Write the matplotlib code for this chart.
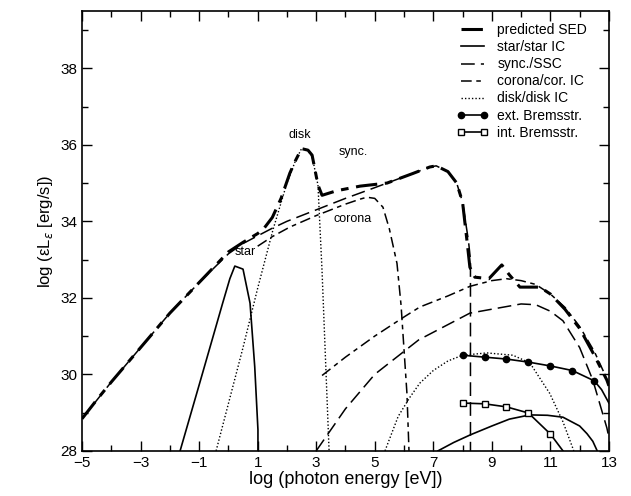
import matplotlib
matplotlib.use("Agg")
import matplotlib.pyplot as plt
from matplotlib.lines import Line2D
from matplotlib.ticker import MultipleLocator

plt.rcParams['font.family'] = ['Liberation Sans', 'DejaVu Sans']

# predicted SED (sum)
sed_x = [-5, -4.5, -4, -3, -2, -1, 0, 0.5, 1.0, 1.2, 1.5, 1.8, 2.1, 2.3, 2.5, 2.72, 2.86, 3.06, 3.2,
         3.7, 4.5, 5.42, 6.3, 6.88, 7.1, 7.5, 7.8, 8.0, 8.15, 8.25, 8.42, 8.9, 9.34, 9.6, 9.96, 10.64,
         11.0, 11.5, 12.0, 12.5, 12.93, 13.0]
sed_y = [28.84, 29.33, 29.8, 30.7, 31.6, 32.4, 33.2, 33.45, 33.68, 33.8, 34.1, 34.6, 35.26, 35.6, 35.9,
         35.86, 35.73, 34.95, 34.68, 34.8, 34.92, 35.0, 35.25, 35.42, 35.45, 35.3, 35.0, 34.5, 33.5,
         32.8, 32.54, 32.5, 32.86, 32.6, 32.28, 32.28, 32.1, 31.7, 31.2, 30.5, 29.85, 29.7]

# star + star IC
star_x = [-1.65, -1.0, -0.5, -0.2, 0.05, 0.22, 0.5, 0.74, 0.9, 1.01, 1.01]
star_y = [28.0, 29.72, 31.05, 31.85, 32.5, 32.83, 32.75, 31.86, 30.2, 28.55, 28.0]
starIC_x = [7.16, 7.7, 8.27, 9.0, 9.6, 10.3, 10.9, 11.43, 12.0, 12.25, 12.45, 12.6]
starIC_y = [28.0, 28.22, 28.42, 28.65, 28.83, 28.94, 28.93, 28.88, 28.65, 28.45, 28.25, 28.0]

# synchrotron + SSC
sync_x = [-5, -4, -3, -2, -1, 0, 0.5, 1.0, 1.5, 2, 3, 4, 5, 5.42, 6.3, 6.88, 7.1, 7.5, 7.8, 8.0,
          8.2, 8.27, 8.27]
sync_y = [28.84, 29.8, 30.7, 31.6, 32.4, 33.15, 33.42, 33.62, 33.82, 34.0, 34.3, 34.6, 34.88, 35.0,
          35.25, 35.42, 35.45, 35.3, 35.0, 34.5, 33.5, 33.0, 28.0]
ssc_x = [3.0, 4.0, 5.0, 6.5, 8.25, 10.0, 10.5, 11.0, 11.43, 12.0, 12.45, 12.93, 13.0]
ssc_y = [28.0, 29.1, 30.0, 30.9, 31.6, 31.84, 31.82, 31.65, 31.4, 30.7, 29.85, 28.6, 28.35]

# corona + corona IC
cor_x = [1.0, 1.5, 2.1, 3.0, 4.0, 4.5, 4.73, 5.0, 5.28, 5.5, 5.76, 5.9, 6.1, 6.17]
cor_y = [33.35, 33.6, 33.85, 34.15, 34.45, 34.58, 34.63, 34.6, 34.37, 33.8, 32.9, 31.8, 29.5, 28.0]
corIC_x = [3.2, 4.0, 5.0, 6.0, 6.54, 7.5, 8.25, 9.0, 9.5, 10.0, 10.5, 11.0, 11.5, 12.0, 12.5,
           12.8, 13.0]
corIC_y = [29.97, 30.45, 31.0, 31.5, 31.76, 32.05, 32.3, 32.45, 32.5, 32.45, 32.35, 32.1, 31.75,
           31.25, 30.6, 30.1, 29.7]

# disk + disk IC
disk_x = [-0.42, 0.5, 1.0, 1.52, 2.0, 2.3, 2.5, 2.7, 2.86, 3.06, 3.2, 3.44]
disk_y = [28.0, 30.7, 32.25, 33.77, 35.0, 35.6, 35.9, 35.86, 35.7, 34.95, 32.7, 28.0]
diskIC_x = [5.35, 5.8, 6.2, 6.54, 7.0, 7.5, 8.0, 8.83, 9.72, 10.3, 10.98, 11.43, 11.8]
diskIC_y = [28.0, 28.9, 29.4, 29.77, 30.1, 30.35, 30.5, 30.56, 30.5, 30.3, 29.5, 28.76, 28.0]

# Bremsstrahlung (first points carry the markers)
ext_x = [8.0, 8.75, 9.5, 10.25, 11.0, 11.75, 12.5, 12.75, 13.0]
ext_y = [30.5, 30.45, 30.4, 30.32, 30.22, 30.1, 29.83, 29.6, 29.25]
int_x = [8.0, 8.75, 9.5, 10.25, 11.0, 11.43]
int_y = [29.25, 29.23, 29.15, 28.99, 28.44, 28.0]

fig = plt.figure(figsize=(6.31, 4.96), dpi=100)
ax = fig.add_axes([0.130, 0.091, 0.835, 0.887])

sed_dash = [7, 2.5, 2.5, 2.5]
sync_dash = [9, 4]
cor_dash = [7, 3, 3, 3]
disk_dash = [1, 1.5]

ax.plot(sed_x, sed_y, color='black', lw=2.2, dashes=sed_dash, zorder=5)
ax.plot(star_x, star_y, color='black', lw=1.2)
ax.plot(starIC_x, starIC_y, color='black', lw=1.2)
ax.plot(sync_x, sync_y, color='black', lw=1.1, dashes=sync_dash)
ax.plot(ssc_x, ssc_y, color='black', lw=1.1, dashes=sync_dash)
ax.plot(cor_x, cor_y, color='black', lw=1.1, dashes=cor_dash)
ax.plot(corIC_x, corIC_y, color='black', lw=1.1, dashes=cor_dash)
ax.plot(disk_x, disk_y, color='black', lw=1.0, dashes=disk_dash)
ax.plot(diskIC_x, diskIC_y, color='black', lw=1.0, dashes=disk_dash)
ax.plot(ext_x, ext_y, color='black', lw=1.2)
ax.plot(ext_x[:7], ext_y[:7], 'o', color='black', ms=4.5)
ax.plot(int_x, int_y, color='black', lw=1.2)
ax.plot(int_x[:5], int_y[:5], 's', color='black', mfc='white', ms=5, mew=1)

ax.text(0.57, 33.2, 'star', fontsize=9, ha='center', va='center')
ax.text(2.45, 36.25, 'disk', fontsize=9, ha='center', va='center')
ax.text(4.25, 35.8, 'sync.', fontsize=9, ha='center', va='center')
ax.text(4.25, 34.05, 'corona', fontsize=9, ha='center', va='center')

ax.set_xlim(-5, 13)
ax.set_ylim(28, 39.5)
ax.xaxis.set_minor_locator(MultipleLocator(1))
ax.yaxis.set_major_locator(MultipleLocator(2))
ax.yaxis.set_minor_locator(MultipleLocator(1))
ax.set_xticks(range(-5, 14, 2))
ax.set_xticklabels(['\u22125', '\u22123', '\u22121', '1', '3', '5', '7', '9', '11', '13'])
ax.tick_params(which='both', direction='in', top=True, right=True, labelsize=11, width=1)
ax.tick_params(which='major', length=7)
ax.tick_params(which='minor', length=4)
for s in ax.spines.values():
    s.set_linewidth(1.2)

ax.set_xlabel('log (photon energy [eV])', fontsize=13, labelpad=1)
ax.set_ylabel('log (\u03b5L$_\u03b5$ [erg/s])', fontsize=12)

handles = [
    Line2D([], [], color='black', lw=2.2, dashes=sed_dash),
    Line2D([], [], color='black', lw=1.2),
    Line2D([], [], color='black', lw=1.1, dashes=sync_dash),
    Line2D([], [], color='black', lw=1.1, dashes=cor_dash),
    Line2D([], [], color='black', lw=1.0, dashes=disk_dash),
    Line2D([], [], color='black', lw=1.2, marker='o', ms=4.5),
    Line2D([], [], color='black', lw=1.2, marker='s', ms=5, mfc='white'),
]
labels = ['predicted SED', 'star/star IC', 'sync./SSC', 'corona/cor. IC', 'disk/disk IC',
          'ext. Bremsstr.', 'int. Bremsstr.']
ax.legend(handles, labels, loc='upper right', bbox_to_anchor=(0.977, 0.994), frameon=False,
          fontsize=10, handlelength=2.3, labelspacing=0.22, borderaxespad=0.3,
          handletextpad=0.65, numpoints=2)

fig.savefig('out.png', dpi=100)
